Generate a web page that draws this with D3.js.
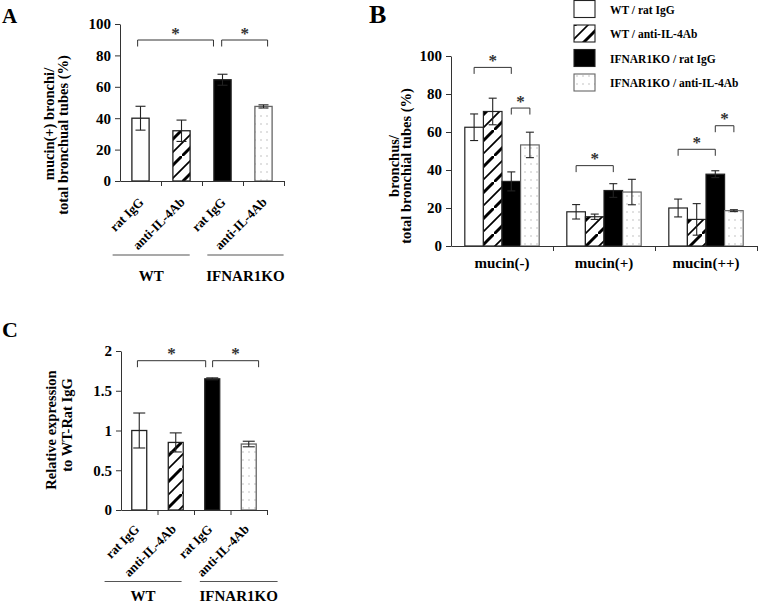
<!DOCTYPE html>
<html><head><meta charset="utf-8">
<script src="https://cdn.jsdelivr.net/npm/d3@7"></script>
<style>
body{margin:0;background:#fff}
svg{display:block}
text{font-family:"Liberation Serif","Times New Roman",serif;font-weight:bold;fill:#000}
</style></head><body>
<svg id="chart" width="758" height="603"></svg>
<script>
// ---------- DATA ----------
const treatments = ["rat IgG", "anti-IL-4Ab", "rat IgG", "anti-IL-4Ab"];
const genotypes = ["WT", "IFNAR1KO"];
const legendLabels = ["WT / rat IgG", "WT / anti-IL-4Ab", "IFNAR1KO / rat IgG", "IFNAR1KO / anti-IL-4Ab"];
const seriesFills = ["white", "hatch", "black", "dots"];

// Panel A
const aTicks = [0, 20, 40, 60, 80, 100];
const aValues = [40, 32, 64.5, 47.5];
const aErrors = [7.6, 6.8, 3.5, 1.0];
const aBrackets = [{from: -0.07, to: 1.78, level: 89.8}, {from: 1.98, to: 3.1, level: 89.8}];
const aYLabel = ["mucin(+) bronchi/", "total bronchual tubes (%)"];

// Panel B
const bCategories = ["mucin(-)", "mucin(+)", "mucin(++)"];
const bTicks = [0, 20, 40, 60, 80, 100];
const bValues = [[62.5, 70.8, 34, 53.2], [18, 15.4, 29.2, 28.4], [20, 14, 37.8, 18.6]];
const bErrors = [[7, 7, 5, 6.7], [3.8, 1.4, 3.6, 6.7], [4.7, 8.3, 1.8, 0.5]];
const bBrackets = [
  {group: 0, from: 0, to: 2, level: 94},
  {group: 0, from: 2, to: 3, level: 72.6},
  {group: 1, from: 0, to: 2, level: 42.3},
  {group: 2, from: 0, to: 2, level: 50.9},
  {group: 2, from: 2, to: 3, level: 63.3}
];
const bYLabel = ["bronchus/", "total bronchial tubes (%)"];

// Panel C
const cTicks = [0, 0.5, 1, 1.5, 2];
const cValues = [1.0, 0.85, 1.65, 0.83];
const cErrors = [0.22, 0.12, 0.012, 0.035];
const cBrackets = [{from: -0.05, to: 1.82, level: 1.878}, {from: 2.01, to: 3.27, level: 1.878}];
const cYLabel = ["Relative expression", "to WT-Rat IgG"];

// ---------- SETUP ----------
const svg = d3.select("#chart");
const defs = svg.append("defs");
const hatch = defs.append("pattern").attr("id", "hatch").attr("patternUnits", "userSpaceOnUse")
  .attr("width", 26).attr("height", 26);
hatch.append("rect").attr("width", 26).attr("height", 26).attr("fill", "white");
hatch.append("path").attr("d", "M-2,28 L28,-2").attr("stroke", "#000").attr("stroke-width", 3);
hatch.append("path").attr("d", "M-2,15 L15,-2 M11,28 L28,11").attr("stroke", "#000").attr("stroke-width", 1.6);
const dots = defs.append("pattern").attr("id", "dots").attr("patternUnits", "userSpaceOnUse")
  .attr("width", 6).attr("height", 8);
dots.append("rect").attr("width", 6).attr("height", 8).attr("fill", "white");
dots.append("rect").attr("x", 2.5).attr("y", 3.5).attr("width", 1).attr("height", 1).attr("fill", "#8a8a8a");

function fillOf(k) {
  const f = seriesFills[k];
  return f === "hatch" ? "url(#hatch)" : f === "dots" ? "url(#dots)" : f;
}
function strokeOf(k) { return seriesFills[k] === "dots" ? "#666" : "#222"; }

function styleAxis(g, size) {
  g.attr("font-size", size).attr("font-family", null);
  g.selectAll("path,line").attr("stroke", "#333");
}

function errorBar(g, cx, yTop, yBot, cap) {
  g.append("line").attr("x1", cx).attr("x2", cx).attr("y1", yTop).attr("y2", yBot).attr("stroke", "#222").attr("stroke-width", 1.1);
  g.append("line").attr("x1", cx - cap / 2).attr("x2", cx + cap / 2).attr("y1", yTop).attr("y2", yTop).attr("stroke", "#222").attr("stroke-width", 1.1);
  g.append("line").attr("x1", cx - cap / 2).attr("x2", cx + cap / 2).attr("y1", yBot).attr("y2", yBot).attr("stroke", "#222").attr("stroke-width", 1.1);
}

function bracket(g, x0, x1, y) {
  g.append("path").attr("d", `M${x0},${y + 6.5}V${y}H${x1}V${y + 6.5}`)
    .attr("fill", "none").attr("stroke", "#333").attr("stroke-width", 1);
  g.append("text").attr("x", (x0 + x1) / 2).attr("y", y - 1.5).attr("text-anchor", "middle")
    .attr("font-size", 17).style("fill", "#333").text("*");
}

function yLabel(lines, xs, ys, size) {
  lines.forEach((t, i) => {
    svg.append("text").attr("transform", `translate(${xs[i]},${ys[i]}) rotate(-90)`)
      .attr("text-anchor", "middle").attr("font-size", size).text(t);
  });
}

// ---------- PANELS A & C ----------
function drawSimple(L, values, errors, ticks, fmt, brackets, labels) {
  const g = svg.append("g");
  const y = d3.scaleLinear().domain([0, ticks[ticks.length - 1]]).range([L.yBottom, L.yTop]);
  const band = d3.scaleBand().domain(d3.range(values.length)).range([L.x0, L.x1]);
  const pos = d3.scaleLinear().domain([-0.5, values.length - 0.5]).range([L.x0, L.x1]);
  const bw = band.bandwidth() * L.barFrac;

  g.selectAll("rect.bar").data(values).join("rect")
    .attr("x", (d, i) => pos(i) - bw / 2).attr("width", bw)
    .attr("y", d => y(d)).attr("height", d => y(0) - y(d))
    .attr("fill", (d, i) => fillOf(i)).attr("stroke", (d, i) => strokeOf(i)).attr("stroke-width", 1.3);
  values.forEach((v, i) => errorBar(g, pos(i), y(v + errors[i]), y(v - errors[i]), L.cap));

  const ya = g.append("g").attr("transform", `translate(${L.x0},0)`)
    .call(d3.axisLeft(y).tickValues(ticks).tickFormat(fmt).tickSizeInner(5).tickSizeOuter(0).tickPadding(4));
  styleAxis(ya, 15);
  const xa = g.append("g").attr("transform", `translate(0,${L.yBottom})`)
    .call(d3.axisBottom(pos).tickValues(d3.range(values.length).map(i => i + 0.5)).tickFormat("").tickSizeInner(5).tickSizeOuter(0));
  styleAxis(xa, 12);

  treatments.forEach((t, i) => {
    const px = pos(i) + L.labDx, py = L.yBottom + L.labDy;
    g.append("text").attr("transform", `translate(${px},${py}) rotate(-45)`)
      .attr("text-anchor", "end").attr("font-size", 13).text(t);
  });
  L.groupLines.forEach((gl, k) => {
    g.append("line").attr("x1", pos(gl[0])).attr("x2", pos(gl[1])).attr("y1", L.lineY).attr("y2", L.lineY)
      .attr("stroke", "#555").attr("stroke-width", 1.2);
    g.append("text").attr("x", (pos(gl[0]) + pos(gl[1])) / 2).attr("y", L.groupTextY)
      .attr("text-anchor", "middle").attr("font-size", 15).text(genotypes[k]);
  });
  brackets.forEach(b => bracket(g, pos(b.from), pos(b.to), y(b.level)));
  yLabel(labels, L.labX, L.labY, 14.5);
}

drawSimple({x0: 120, x1: 284, yBottom: 181, yTop: 24, barFrac: 0.42, cap: 10, labDx: 4, labDy: 22,
  groupLines: [[-0.68, 1.2], [1.63, 3.49]], lineY: 255, groupTextY: 281, labX: [54, 68], labY: [124, 135]},
  aValues, aErrors, aTicks, d3.format("d"), aBrackets, aYLabel);

drawSimple({x0: 121, x1: 267, yBottom: 510, yTop: 351, barFrac: 0.41, cap: 12, labDx: 1, labDy: 20,
  groupLines: [[-0.95, 1.16], [1.66, 3.79]], lineY: 581.5, groupTextY: 601, labX: [56, 72], labY: [430, 425]},
  cValues, cErrors, cTicks, d => String(d), cBrackets, cYLabel);

// ---------- PANEL B ----------
(function () {
  const L = {x0: 451, x1: 757, yBottom: 246, yTop: 56};
  const g = svg.append("g");
  const y = d3.scaleLinear().domain([0, 100]).range([L.yBottom, L.yTop]);
  const x = d3.scaleBand().domain(bCategories).range([L.x0, L.x1]);
  const inner = d3.scaleBand().domain(d3.range(4)).range([0, x.bandwidth()]).paddingInner(0).paddingOuter(0.743);
  const bw = inner.bandwidth();
  const cx = (gi, k) => x(bCategories[gi]) + inner(k) + bw / 2;

  bValues.forEach((vals, gi) => {
    vals.forEach((v, k) => {
      g.append("rect").attr("x", x(bCategories[gi]) + inner(k)).attr("width", bw)
        .attr("y", y(v)).attr("height", y(0) - y(v))
        .attr("fill", fillOf(k)).attr("stroke", strokeOf(k)).attr("stroke-width", 1.2);
    });
    vals.forEach((v, k) => errorBar(g, cx(gi, k), y(v + bErrors[gi][k]), y(v - bErrors[gi][k]), 8));
  });

  const ya = g.append("g").attr("transform", `translate(${L.x0},0)`)
    .call(d3.axisLeft(y).tickValues(bTicks).tickFormat(d3.format("d")).tickSizeInner(5).tickSizeOuter(0).tickPadding(4));
  styleAxis(ya, 15);
  const pos = d3.scaleLinear().domain([0, 3]).range([L.x0, L.x1]);
  const xa = g.append("g").attr("transform", `translate(0,${L.yBottom})`)
    .call(d3.axisBottom(pos).tickValues([1, 2, 3]).tickFormat("").tickSizeInner(5).tickSizeOuter(0));
  styleAxis(xa, 12);
  bCategories.forEach(c => {
    g.append("text").attr("x", x(c) + x.bandwidth() / 2).attr("y", 268).attr("text-anchor", "middle")
      .attr("font-size", 15).text(c);
  });
  bBrackets.forEach(b => bracket(g, cx(b.group, b.from), cx(b.group, b.to), y(b.level)));
  yLabel(bYLabel, [399, 411], [166, 166], 14.5);

  // legend
  const lg = svg.append("g").attr("transform", "translate(574,0)");
  legendLabels.forEach((t, k) => {
    lg.append("rect").attr("x", 0).attr("y", 0.5 + k * 24.5).attr("width", 21).attr("height", 17)
      .attr("fill", fillOf(k)).attr("stroke", strokeOf(k)).attr("stroke-width", 1.1);
    lg.append("text").attr("x", 36).attr("y", 13.5 + k * 24.5).attr("font-size", 11.5).text(t);
  });
})();

// ---------- PANEL LETTERS ----------
svg.append("text").attr("x", 2).attr("y", 23).attr("font-size", 21).text("A");
svg.append("text").attr("x", 369).attr("y", 23).attr("font-size", 26).text("B");
svg.append("text").attr("x", 2).attr("y", 337).attr("font-size", 22).text("C");
</script>
</body></html>
